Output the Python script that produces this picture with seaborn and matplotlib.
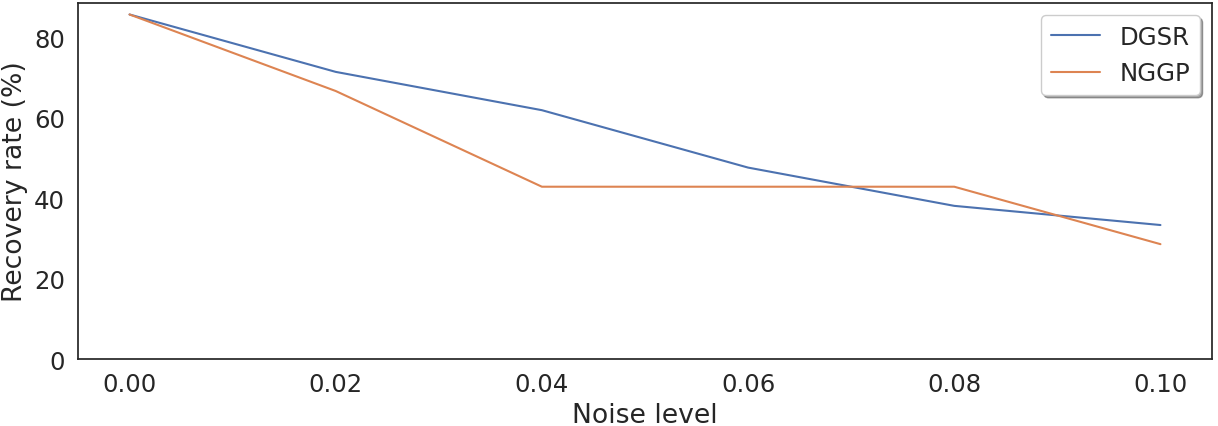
import matplotlib
matplotlib.use("Agg")
import matplotlib.pyplot as plt
import seaborn as sns
import pandas as pd

noise_levels = [0.00, 0.02, 0.04, 0.06, 0.08, 0.10]
dgsr_rate = [85.71, 71.43, 61.90, 47.62, 38.10, 33.33]
nggp_rate = [85.71, 66.67, 42.86, 42.86, 42.86, 28.57]

df = pd.DataFrame({
    "Noise level": noise_levels * 2,
    "Recovery rate (%)": dgsr_rate + nggp_rate,
    "Method": ["DGSR"] * 6 + ["NGGP"] * 6,
})

sns.set_theme(style="white", font_scale=1.6)

fig, ax = plt.subplots(figsize=(12.18, 4.27), dpi=100)
sns.lineplot(data=df, x="Noise level", y="Recovery rate (%)", hue="Method", ax=ax)

ax.set_ylim(bottom=0)
ax.set_xticks(noise_levels)
ax.set_xticklabels([f"{v:.2f}" for v in noise_levels])
ax.legend(loc="upper right", shadow=True, frameon=True)

fig.subplots_adjust(left=78 / 1218, right=1212 / 1218, top=1 - 4 / 427, bottom=1 - 360 / 427)
fig.savefig("out.png", dpi=100)
